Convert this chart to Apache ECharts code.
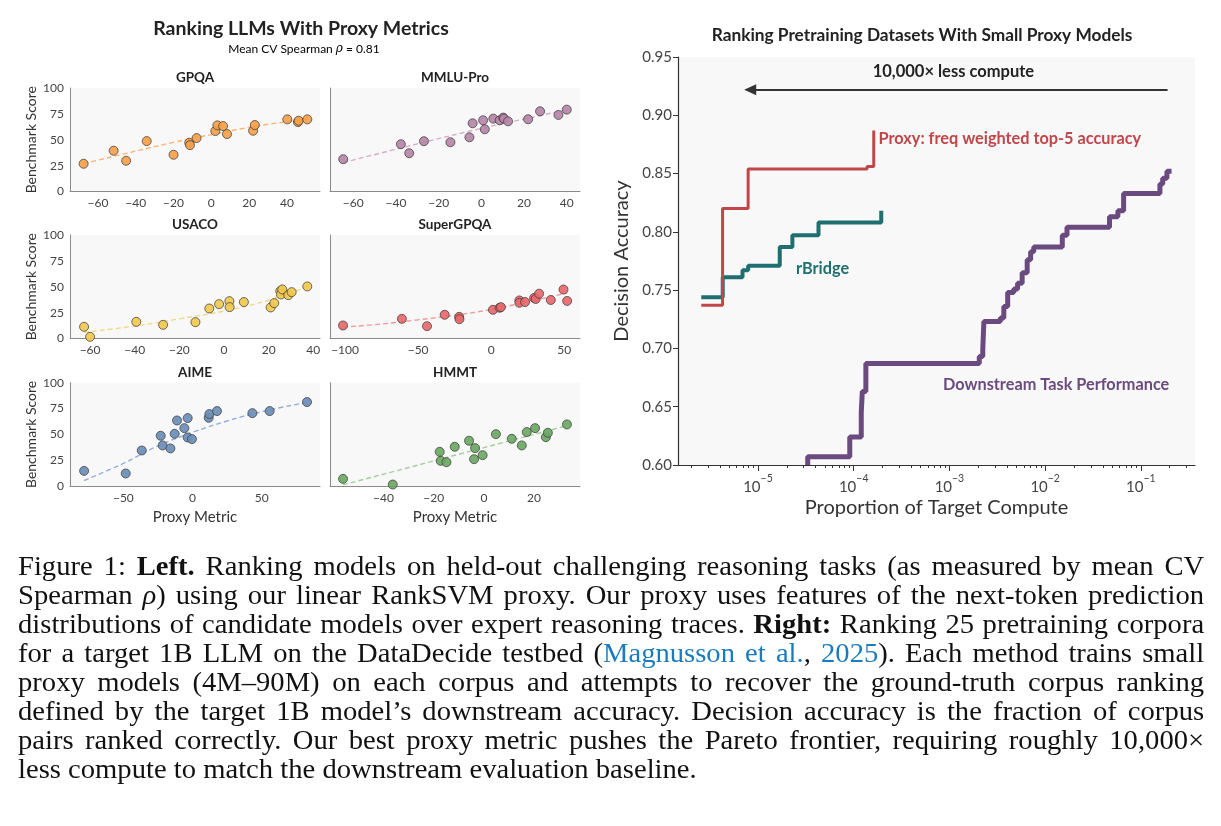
<!DOCTYPE html>
<html>
<head>
<meta charset="utf-8">
<script src="https://cdn.jsdelivr.net/npm/echarts@6/dist/echarts.min.js"></script>
<style>
  html, body { margin: 0; padding: 0; background: #fff; }
  #chart { position: absolute; left: 0; top: 0; width: 1221px; height: 826px; }
  #caption {
    position: absolute; left: 18px; top: 552px; width: 1119px;
    transform: scaleX(1.06); transform-origin: 0 0;
    font-family: "Liberation Serif", "Times New Roman", serif;
    font-size: 27px; line-height: 29px; color: #111;
  }
  #caption div { text-align: justify; text-align-last: justify; white-space: nowrap; }
  #caption div.tight { word-spacing: -1px; }
  #caption div.last { text-align-last: left; }
  .cite { color: #1a7bbf; }
</style>
</head>
<body>
<div id="chart"></div>
<div id="caption">
  <div>Figure 1: <b>Left.</b> Ranking models on held-out challenging reasoning tasks (as measured by mean CV</div>
  <div>Spearman <i>ρ</i>) using our linear RankSVM proxy. Our proxy uses features of the next-token prediction</div>
  <div class="tight">distributions of candidate models over expert reasoning traces. <b>Right:</b> Ranking 25 pretraining corpora</div>
  <div>for a target 1B LLM on the DataDecide testbed (<span class="cite">Magnusson et al.</span>, <span class="cite">2025</span>). Each method trains small</div>
  <div>proxy models (4M–90M) on each corpus and attempts to recover the ground-truth corpus ranking</div>
  <div>defined by the target 1B model’s downstream accuracy. Decision accuracy is the fraction of corpus</div>
  <div>pairs ranked correctly. Our best proxy metric pushes the Pareto frontier, requiring roughly 10,000×</div>
  <div class="last">less compute to match the downstream evaluation baseline.</div>
</div>
<script>
// ---- left: benchmark score vs proxy metric ----
const gpqaPoints = [[-67.6, 26.8], [-51.7, 39.4], [-45.1, 29.7], [-34.2, 48.7], [-20, 35.5], [-11.7, 47.1],
  [-11.3, 44.8], [-7.8, 51.6], [2.1, 58.4], [3.2, 63.9], [6.2, 63.2], [8.3, 55.5], [22.1, 58.7], [23, 64.2],
  [40.2, 69.7], [45.8, 67.1], [46.2, 68.4], [50.8, 69.7]];
const gpqaFit = [[-67.6, 27], [-40, 39], [-20, 47.5], [0, 55], [25, 63.5], [50.8, 70]];

const mmluPoints = [[-64.7, 31.2], [-37.7, 45.7], [-33.8, 37], [-26.9, 48.6], [-14.5, 47.6], [-5.6, 52.4],
  [-4.1, 65.9], [0.8, 68.8], [1.6, 60.1], [5.6, 70.4], [8.6, 68.8], [10.2, 71.4], [10.6, 70.4], [12.5, 67.8],
  [21.9, 69.8], [27.5, 77.5], [36.1, 74], [40, 79.1]];
const mmluFit = [[-64.7, 28], [-30, 46], [0, 61], [20, 70], [40, 79]];

const usacoPoints = [[-62.7, 11.3], [-60, 1.6], [-39.3, 16.1], [-27.3, 13.2], [-12.8, 15.8], [-6.6, 29],
  [-2.2, 33.2], [2.4, 36.1], [2.5, 30.3], [8.9, 35.2], [20.9, 30], [22.5, 34.2], [25.2, 45.8], [25.5, 42.6],
  [26.1, 47.4], [28.8, 41.9], [30.3, 44.8], [37.3, 50.3]];
const usacoFit = [[-62.7, 6], [-40, 12], [-20, 19], [0, 26.5], [20, 37], [37.3, 50]];

const superPoints = [[-101.4, 12.6], [-61.1, 19], [-43.9, 11.9], [-31.8, 22.9], [-21.9, 20.9], [-21.7, 18.7],
  [1.2, 27.7], [5.8, 29.7], [6.7, 30.3], [19.3, 36.8], [19.3, 34.5], [23.2, 35.2], [29.4, 39.2], [30.5, 38.2],
  [32.8, 43.3], [40.8, 37.2], [49.5, 47.3], [52, 36.3]];
const superFit = [[-101.4, 11], [-75, 14], [-50, 18], [-25, 22.5], [0, 28], [25, 35.5], [52, 44]];

const aimePoints = [[-78.4, 14.8], [-48.3, 12.3], [-36.7, 34.5], [-23, 48.7], [-21.6, 39.4], [-16, 36.5],
  [-12.9, 50.6], [-11.2, 63.5], [-5.9, 56.1], [-3.5, 65.8], [-3.5, 47.1], [-0.4, 45.5], [11.7, 66.1],
  [12.2, 69.7], [17.7, 72.6], [43.3, 70.6], [55.8, 72.6], [82.8, 81.3]];
const aimeFit = [[-78.4, 5.5], [-50, 22], [-25, 39], [0, 52], [25, 63], [50, 72], [82.8, 81]];

const hmmtPoints = [[-56.1, 7.1], [-36.3, 1.6], [-17.6, 33.2], [-17.2, 24.5], [-14.9, 23.2], [-11.6, 38.1],
  [-5.9, 43.9], [-3.9, 26.1], [-3.5, 36.8], [-0.5, 30], [4.8, 50.3], [11.1, 45.8], [15.1, 39.4], [17.1, 52.3],
  [20.4, 56.1], [24.7, 47.4], [25.5, 51.6], [33.1, 59.7]];
const hmmtFit = [[-56.1, 1.3], [33.1, 58.4]];

const panelNames = ['GPQA', 'MMLU-Pro', 'USACO', 'SuperGPQA', 'AIME', 'HMMT'];
const panelPoints = [gpqaPoints, mmluPoints, usacoPoints, superPoints, aimePoints, hmmtPoints];
const panelFits = [gpqaFit, mmluFit, usacoFit, superFit, aimeFit, hmmtFit];
const panelXRange = [[-74.8, 57.5], [-70.9, 46.2], [-69, 43], [-110.3, 60.8], [-88.6, 92.2], [-61.3, 38.3]];
const panelXTicks = [
  [-60, -40, -20, 0, 20, 40], [-60, -40, -20, 0, 20, 40], [-60, -40, -20, 0, 20, 40],
  [-100, -50, 0, 50], [-50, 0, 50], [-40, -20, 0, 20]
];
const scoreTicks = [0, 25, 50, 75, 100];

// ---- right: decision accuracy vs proportion of target compute ----
const proxyCurve = [[2.56e-6, 0.737], [4.27e-6, 0.820], [7.9e-6, 0.854], [1.38e-4, 0.856], [1.62e-4, 0.887]];
const rbridgeCurve = [[2.56e-6, 0.744], [4.29e-6, 0.761], [6.9e-6, 0.767], [7.9e-6, 0.771], [1.69e-5, 0.787],
  [2.29e-5, 0.797], [4.29e-5, 0.808], [1.94e-4, 0.818]];
const downstreamCurve = [[3.31e-5, 0.600], [3.31e-5, 0.607], [9.1e-5, 0.624], [1.2e-4, 0.645], [1.23e-4, 0.663],
  [1.34e-4, 0.687], [2.05e-3, 0.693], [2.23e-3, 0.699], [2.29e-3, 0.723], [3.4e-3, 0.726], [3.7e-3, 0.736],
  [4.06e-3, 0.748], [4.7e-3, 0.751], [5.15e-3, 0.756], [5.75e-3, 0.765], [6.49e-3, 0.776], [7.05e-3, 0.783],
  [7.6e-3, 0.787], [1.51e-2, 0.797], [1.69e-2, 0.804], [4.7e-2, 0.813], [5.75e-2, 0.818], [6.6e-2, 0.833],
  [0.158, 0.841], [0.169, 0.846], [0.187, 0.852], [0.209, 0.852]];
const computeTicks = [1e-5, 1e-4, 1e-3, 1e-2, 1e-1];

const lg = v => Math.log10(v);
const toLog = arr => arr.map(([c, a]) => [lg(c), a]);
const minus = v => String(v).replace('-', '\u2212');

const FONT = 'Lato';
const colLeft = [70, 330];
const rowTop = [88, 235, 382.7];
const panelW = 250, panelH = 103.5;
const dotColors = ['#f5a04a', '#b785a8', '#f1c84e', '#e8686b', '#6a8db8', '#6aa862'];
const fitColors = ['#f7b57a', '#d7aac7', '#f3d888', '#f29a9a', '#93afd6', '#a2cf99'];

const grids = [], xAxes = [], yAxes = [], series = [], graphics = [];

panelNames.forEach((name, i) => {
  const row = Math.floor(i / 2), col = i % 2;
  grids.push({ left: colLeft[col], top: rowTop[row], width: panelW, height: panelH,
    show: true, backgroundColor: '#f8f8f8', borderWidth: 0 });
  xAxes.push({
    gridIndex: i, type: 'value', min: panelXRange[i][0], max: panelXRange[i][1],
    axisLine: { show: true, onZero: false, lineStyle: { color: '#8a8a8a', width: 1 } },
    axisTick: { show: false }, splitLine: { show: false },
    axisLabel: { customValues: panelXTicks[i], formatter: minus, fontSize: 12, color: '#444', margin: 6, fontFamily: FONT },
    name: row === 2 ? 'Proxy Metric' : '', nameLocation: 'middle', nameGap: 23,
    nameTextStyle: { fontSize: 15, color: '#333', fontFamily: FONT }
  });
  yAxes.push({
    gridIndex: i, type: 'value', min: 0, max: 100,
    axisLine: { show: true, onZero: false, lineStyle: { color: '#8a8a8a', width: 1 } },
    axisTick: { show: false }, splitLine: { show: false },
    axisLabel: { show: col === 0, customValues: scoreTicks, fontSize: 12, color: '#444', margin: 6, fontFamily: FONT },
    name: col === 0 ? 'Benchmark Score' : '', nameLocation: 'middle', nameGap: 32,
    nameTextStyle: { fontSize: 14, color: '#333', fontFamily: FONT }
  });
  series.push({
    type: 'line', xAxisIndex: i, yAxisIndex: i, data: panelFits[i], smooth: 0.4, symbol: 'none', silent: true, z: 2,
    lineStyle: { type: [5, 3], width: 1.4, color: fitColors[i] }
  });
  series.push({
    type: 'scatter', xAxisIndex: i, yAxisIndex: i, data: panelPoints[i], symbolSize: 9, z: 3,
    itemStyle: { color: dotColors[i], borderColor: '#3a3a3a', borderWidth: 0.8, opacity: 0.92 }
  });
  graphics.push({ type: 'text', x: colLeft[col] + panelW / 2, y: rowTop[row] - 10,
    style: { text: name, align: 'center', verticalAlign: 'middle', fontSize: 13.5, fontWeight: 'bold', fontFamily: FONT, fill: '#222' } });
});

graphics.push({ type: 'text', x: 301, y: 29,
  style: { text: 'Ranking LLMs With Proxy Metrics', align: 'center', verticalAlign: 'middle', fontSize: 19.5, fontWeight: 'bold', fontFamily: FONT, fill: '#222' } });
graphics.push({ type: 'text', x: 304, y: 49,
  style: { text: '{a|Mean CV Spearman }{i|ρ}{a| = 0.81}', align: 'center', verticalAlign: 'middle',
    rich: { a: { fontSize: 12, fontFamily: FONT, color: '#555' }, i: { fontSize: 12, fontStyle: 'italic', fontFamily: 'DejaVu Serif', color: '#555' } } } });
graphics.push({ type: 'text', x: 922, y: 35,
  style: { text: 'Ranking Pretraining Datasets With Small Proxy Models', align: 'center', verticalAlign: 'middle', fontSize: 17.3, fontWeight: 'bold', fontFamily: FONT, fill: '#222' } });

// right panel
const R = 6;
const xLogMin = -5.835, xLogMax = -0.435;
const minorTicks = [];
for (let e = -6; e <= -1; e++) {
  for (let k = 2; k <= 9; k++) {
    const v = lg(k * Math.pow(10, e));
    if (v > xLogMin && v < xLogMax) minorTicks.push(v);
  }
}
grids.push({ left: 678, top: 57, width: 517, height: 408, show: true, backgroundColor: '#f8f8f8', borderWidth: 0 });
xAxes.push({
  gridIndex: R, type: 'value', min: xLogMin, max: xLogMax, position: 'bottom',
  axisLine: { show: true, onZero: false, lineStyle: { color: '#333', width: 1.2 } },
  axisTick: { show: true, customValues: computeTicks.map(lg), length: 6, lineStyle: { color: '#333' } },
  splitLine: { show: false },
  axisLabel: {
    customValues: computeTicks.map(lg), margin: 8,
    formatter: v => '{b|10}{s|\u2212' + Math.round(-v) + '}',
    rich: {
      b: { fontSize: 15, color: '#444', fontFamily: FONT, lineHeight: 22, verticalAlign: 'bottom' },
      s: { fontSize: 10.5, color: '#444', fontFamily: FONT, lineHeight: 11, verticalAlign: 'top' }
    }
  },
  name: 'Proportion of Target Compute', nameLocation: 'middle', nameGap: 33,
  nameTextStyle: { fontSize: 20, color: '#333', fontFamily: FONT }
});
xAxes.push({
  gridIndex: R, type: 'value', min: xLogMin, max: xLogMax, position: 'bottom',
  axisLine: { show: false }, axisLabel: { show: false }, splitLine: { show: false },
  axisTick: { show: true, customValues: minorTicks, length: 3, lineStyle: { color: '#333' } }
});
yAxes.push({
  gridIndex: R, type: 'value', min: 0.6, max: 0.95, interval: 0.05,
  axisLine: { show: true, onZero: false, lineStyle: { color: '#333', width: 1.2 } },
  axisTick: { show: true, length: 5, lineStyle: { color: '#333' } }, splitLine: { show: false },
  axisLabel: { formatter: v => v.toFixed(2), fontSize: 15, color: '#444', margin: 6, fontFamily: FONT },
  name: 'Decision Accuracy', nameLocation: 'middle', nameGap: 46,
  nameTextStyle: { fontSize: 20, color: '#333', fontFamily: FONT }
});

const arrow = { from: [lg(0.19), 0.922], to: [lg(8.3e-6), 0.922], text: [lg(1.1e-3), 0.937] };
const curveLabels = [
  { text: 'Proxy: freq weighted top-5 accuracy', at: [lg(1.82e-4), 0.880], color: '#c0464a' },
  { text: 'rBridge', at: [lg(2.5e-5), 0.7686], color: '#1f6e70' },
  { text: 'Downstream Task Performance', at: [lg(8.55e-4), 0.6686], color: '#6b4a80' }
];
const markText = (l) => ({
  coord: l.at, symbolSize: 0,
  label: { show: true, formatter: l.text, position: 'right', distance: 0, color: l.color, fontSize: 16.3, fontWeight: 'bold', fontFamily: FONT }
});

series.push({
  type: 'line', xAxisIndex: 7, yAxisIndex: R, data: toLog(downstreamCurve), step: 'end', symbol: 'none',
  lineStyle: { color: '#6b4a80', width: 5 }, z: 3,
  markPoint: { silent: true, data: [markText(curveLabels[2])] }
});
series.push({
  type: 'line', xAxisIndex: 7, yAxisIndex: R, data: toLog(rbridgeCurve), step: 'end', symbol: 'none',
  lineStyle: { color: '#1f6e70', width: 4 }, z: 4,
  markPoint: { silent: true, data: [markText(curveLabels[1])] }
});
series.push({
  type: 'line', xAxisIndex: 7, yAxisIndex: R, data: toLog(proxyCurve), step: 'end', symbol: 'none',
  lineStyle: { color: '#c0464a', width: 3 }, z: 5,
  markPoint: {
    silent: true,
    data: [markText(curveLabels[0]), {
      coord: arrow.text, symbolSize: 0,
      label: { show: true, formatter: '10,000× less compute', position: 'inside', color: '#222', fontSize: 16.5, fontWeight: 'bold', fontFamily: FONT }
    }]
  },
  markLine: {
    silent: true, symbol: ['none', 'triangle'], symbolSize: [11, 12],
    lineStyle: { color: '#333', width: 1.8, type: 'solid' }, label: { show: false },
    data: [[{ coord: arrow.from }, { coord: arrow.to }]]
  }
});

const chart = echarts.init(document.getElementById('chart'), null, { renderer: 'canvas' });
chart.setOption({
  animation: false,
  textStyle: { fontFamily: FONT },
  grid: grids, xAxis: xAxes, yAxis: yAxes, series: series, graphic: graphics
});
</script>
</body>
</html>
